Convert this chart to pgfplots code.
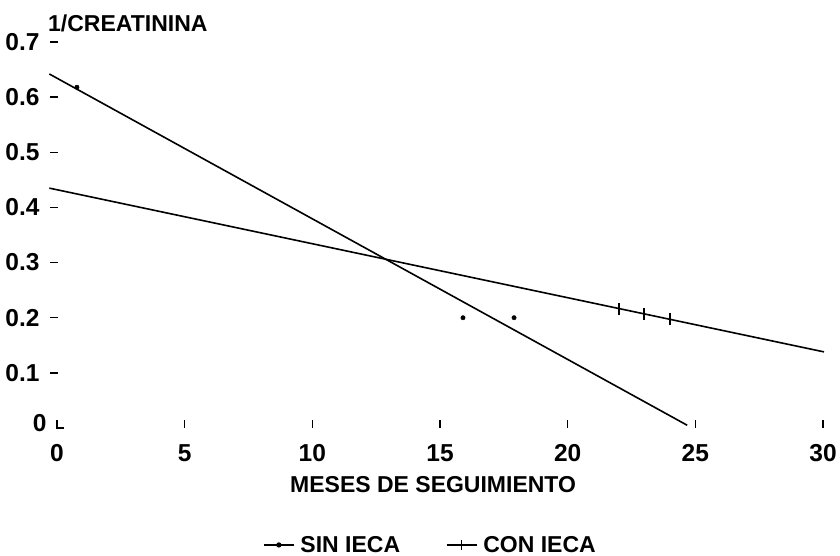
\documentclass[border=0pt]{standalone}
\usepackage{pgfplots}
\pgfplotsset{compat=1.18}
\usepackage{fontspec}
\setmainfont{Liberation Sans}
\newcommand{\BigFont}{\fontsize{23}{27}\selectfont\bfseries}
\newcommand{\TickFont}{\fontsize{24.5}{28}\selectfont\bfseries}
\begin{document}
\begin{tikzpicture}
\useasboundingbox[fill=white] (0,0) rectangle (840pt,556pt);
\begin{axis}[
  at={(57pt,128pt)}, anchor=south west,
  scale only axis, width=766pt, height=386pt,
  xmin=0, xmax=30, ymin=0, ymax=0.7,
  clip=false,
  axis lines*=left, axis line style={draw=none},
  xtick={0,5,10,15,20,25,30},
  ytick={0.1,0.2,0.3,0.4,0.5,0.6,0.7},
  extra y ticks={0},
  extra y tick style={ytick style={xshift=6pt}, yticklabel style={xshift=7pt, yshift=5pt}},
  tick align=inside, major tick length=8pt,
  tick style={line width=1.4pt, black},
  ytick style={xshift=-7pt},
  /pgf/number format/assume math mode=true,
  yticklabel style={/pgf/number format/fixed, /pgf/number format/precision=1, xshift=-14pt},
  xticklabel style={yshift=-13pt},
  tick label style={font=\TickFont},
  legend image code/.code={\draw[mark repeat=2,mark phase=2,#1] plot coordinates {(0pt,0pt) (15pt,0pt) (30pt,0pt)};},
  legend columns=2,
  legend style={draw=none, fill=none, inner sep=0pt, font=\BigFont,
    at={(axis description cs:0.269,-0.303)}, anchor=west,
    /tikz/every even column/.append style={column sep=44pt},
    /tikz/every odd column/.append style={column sep=4pt}},
]
% SIN IECA
\addplot[line width=1.6pt, no markers, forget plot] coordinates {(-0.3,0.642) (24.68,0.005)};
\addplot[only marks, mark=*, mark size=2.2pt, forget plot] coordinates {(0.78,0.618) (15.9,0.2) (17.9,0.2)};
% CON IECA
\addplot[line width=1.6pt, no markers, forget plot] coordinates {(-0.3,0.435) (30.04,0.138)};
\addplot[only marks, mark=|, mark size=6pt, line width=1.6pt, forget plot] coordinates {(22,0.216) (23,0.207) (24,0.198)};
\addlegendimage{line width=1.2pt, mark=*, mark size=2pt}
\addlegendentry{SIN IECA}
\addlegendimage{line width=1.2pt, mark=|, mark size=5pt, mark options={line width=1.2pt}}
\addlegendentry{CON IECA}
\node[font=\BigFont, anchor=base west, inner sep=0pt] at ([xshift=-9pt,yshift=10pt]axis cs:0,0.7) {1/CREATININA};
\node[font=\BigFont, anchor=base, inner sep=0pt] at ([yshift=-65pt]axis cs:14.73,0) {MESES DE SEGUIMIENTO};
\end{axis}
\end{tikzpicture}
\end{document}
